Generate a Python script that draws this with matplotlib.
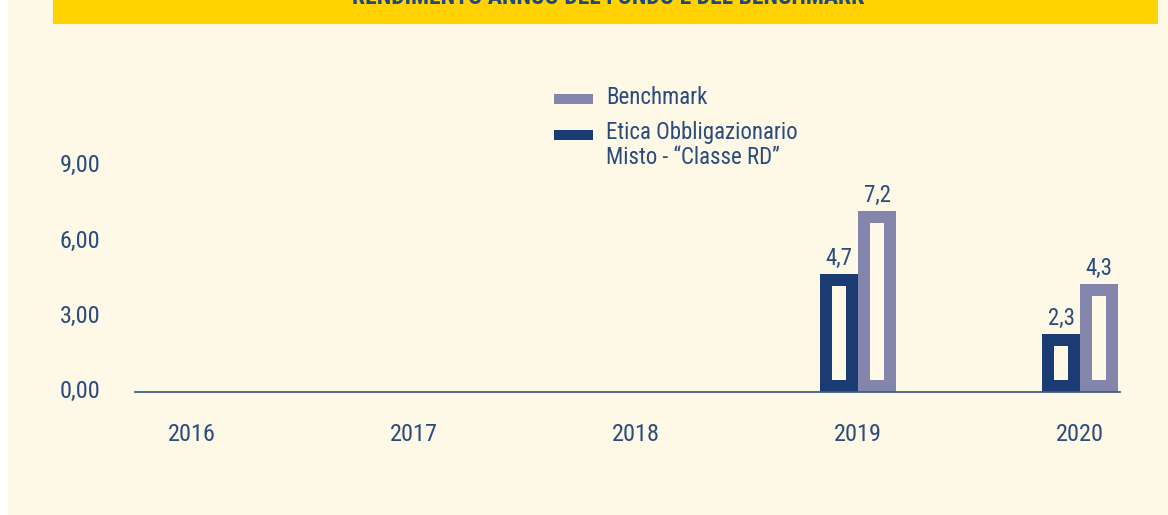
import matplotlib
matplotlib.use("Agg")
import matplotlib.pyplot as plt
import matplotlib.transforms as mtransforms
from matplotlib import font_manager
from matplotlib.patches import Rectangle
import numpy as np

years = ["2016", "2017", "2018", "2019", "2020"]
fund = [np.nan, np.nan, np.nan, 4.7, 2.3]
bench = [np.nan, np.nan, np.nan, 7.2, 4.3]
yticks = [0, 3, 6, 9]
fund_label = "Etica Obbligazionario\nMisto - \u201cClasse RD\u201d"
bench_label = "Benchmark"
title = "RENDIMENTO ANNUO DEL FONDO E DEL BENCHMARK"

BG = "#FEF8E7"
YELLOW = "#FFD200"
NAVY = "#1B3C73"
LAVENDER = "#8485AB"
TXT = "#2A4B7C"
AXIS = "#3D5C8C"

# pick a narrow font if one is installed
names = {f.name for f in font_manager.fontManager.ttflist}
font = "DejaVu Sans"
for cand in ["Roboto Condensed", "Open Sans Condensed", "Liberation Sans Narrow"]:
    if cand in names:
        font = cand
        break
plt.rcParams["font.family"] = [font, "DejaVu Sans"]
plt.rcParams["font.stretch"] = "condensed"

W, H = 1168, 515
fig = plt.figure(figsize=(W / 100, H / 100), dpi=100, facecolor=BG)

# white strip on the left and yellow title banner
fig.patches.append(Rectangle((0, 0), 8 / W, 1, transform=fig.transFigure,
                             facecolor="white", edgecolor="none"))
fig.patches.append(Rectangle((53 / W, 1 - 24 / H), 1105 / W, 24 / H,
                             transform=fig.transFigure, facecolor=YELLOW,
                             edgecolor="none"))
fig.text(608 / W, 1 - 4 / H, title, ha="center", va="baseline",
         fontsize=17, fontweight="bold", color="#1F4A80")

ax_l, ax_r = 135, 1120
ax_b = 392
ymax = 10
px_per_unit = 25.1
ax_h = ymax * px_per_unit
ax = fig.add_axes([ax_l / W, (H - ax_b) / H, (ax_r - ax_l) / W, ax_h / H])
ax.set_facecolor("none")

xmin, xmax = -0.257, 4.18
ax.set_xlim(xmin, xmax)
ax.set_ylim(0, ymax)

x = np.arange(len(years))
width = 0.171
# border thickness of the hollow bars, in data units
bx = 12 / ((ax_r - ax_l) / (xmax - xmin))
by = 12 / px_per_unit

for offs, vals, col in [(-width / 2, fund, NAVY), (width / 2, bench, LAVENDER)]:
    vals = np.array(vals)
    ax.bar(x + offs, vals, width, color=col, edgecolor="none", zorder=2)
    ax.bar(x + offs, vals - 2 * by, width - 2 * bx, bottom=by, color=BG,
           edgecolor="none", zorder=3)
    for xi, v in zip(x, vals):
        if np.isnan(v):
            continue
        ax.annotate(f"{v:.1f}".replace(".", ","), xy=(xi + offs, v),
                    xytext=(0, 3), textcoords="offset points",
                    ha="center", va="bottom", fontsize=16.5, color=TXT)

for s in ["top", "right", "left"]:
    ax.spines[s].set_visible(False)
ax.spines["bottom"].set_color(AXIS)
ax.spines["bottom"].set_linewidth(1.3)
ax.spines["bottom"].set_zorder(4)

ax.set_xticks(x)
ax.set_xticklabels(years)
ax.set_yticks(yticks)
ax.set_yticklabels([f"{t:.2f}".replace(".", ",") for t in yticks])
ax.tick_params(axis="both", length=0, labelsize=17.5, labelcolor=TXT)
ax.tick_params(axis="x", pad=22)
ax.tick_params(axis="y", pad=25)
shift = mtransforms.ScaledTranslation(0, 2 / 72, fig.dpi_scale_trans)
for lab in ax.get_yticklabels():
    lab.set_transform(lab.get_transform() + shift)

# legend
fig.patches.append(Rectangle((554 / W, 1 - 104 / H), 39 / W, 10 / H,
                             transform=fig.transFigure, facecolor=LAVENDER,
                             edgecolor="none"))
fig.patches.append(Rectangle((554 / W, 1 - 140 / H), 39 / W, 10 / H,
                             transform=fig.transFigure, facecolor=NAVY,
                             edgecolor="none"))
fig.text(606 / W, 1 - 98 / H, bench_label, ha="left", va="center",
         fontsize=16.5, color=TXT)
fig.text(606 / W, 1 - 121 / H, fund_label, ha="left", va="top",
         fontsize=16.5, color=TXT, linespacing=1.12)

fig.savefig("out.png", dpi=100, facecolor=BG)
